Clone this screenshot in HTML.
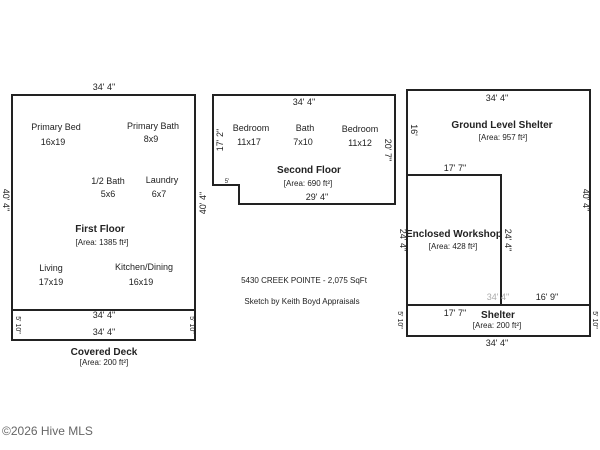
<!DOCTYPE html>
<html><head><style>body{margin:0;background:#fff}svg{display:block}text{font-family:"Liberation Sans",sans-serif;fill:#222}</style></head><body>
<svg width="600" height="450" viewBox="0 0 600 450">
<g fill="none" stroke="#222" stroke-width="2">
<rect x="12" y="95" width="183" height="245"/>
<line x1="12" y1="310" x2="195" y2="310"/>
<path d="M213 95 H395 V204 H239 V185 H213 Z"/>
<rect x="407" y="90" width="183" height="246"/>
<path d="M407 175 H501 V305"/>
<line x1="407" y1="305" x2="590" y2="305"/>
</g>
<g font-size="9" text-anchor="middle">
<text x="104" y="90">34' 4"</text>
<text x="56" y="130">Primary Bed</text><text x="53" y="145">16x19</text>
<text x="153" y="129">Primary Bath</text><text x="151" y="142">8x9</text>
<text x="108" y="184">1/2 Bath</text><text x="108" y="197">5x6</text>
<text x="162" y="183">Laundry</text><text x="159" y="197">6x7</text>
<text x="100" y="232" font-size="10" font-weight="bold">First Floor</text>
<text x="102" y="245" font-size="8">[Area: 1385 ft²]</text>
<text x="51" y="271">Living</text><text x="51" y="285">17x19</text>
<text x="144" y="270">Kitchen/Dining</text><text x="141" y="285">16x19</text>
<text x="104" y="318">34' 4"</text><text x="104" y="335">34' 4"</text>
<text x="104" y="355" font-size="10" font-weight="bold">Covered Deck</text>
<text x="104" y="365" font-size="8">[Area: 200 ft²]</text>
<text x="0" y="0" transform="translate(3,200) rotate(90)">40' 4"</text>
<text x="0" y="0" transform="translate(206,203) rotate(-90)">40' 4"</text>
<text x="0" y="0" font-size="7" transform="translate(16,325) rotate(90)">5' 10"</text>
<text x="0" y="0" font-size="7" transform="translate(190,325) rotate(90)">5' 10"</text>
<text x="304" y="105">34' 4"</text>
<text x="251" y="131">Bedroom</text><text x="249" y="145">11x17</text>
<text x="305" y="131">Bath</text><text x="303" y="145">7x10</text>
<text x="360" y="132">Bedroom</text><text x="360" y="146">11x12</text>
<text x="309" y="173" font-size="10" font-weight="bold">Second Floor</text>
<text x="308" y="186" font-size="8">[Area: 690 ft²]</text>
<text x="317" y="200">29' 4"</text>
<text x="227" y="183" font-size="6">5'</text>
<text x="0" y="0" transform="translate(223,140) rotate(-90)">17' 2"</text>
<text x="0" y="0" transform="translate(385,150) rotate(90)">20' 7"</text>
<text x="497" y="101">34' 4"</text>
<text x="502" y="128" font-size="10" font-weight="bold">Ground Level Shelter</text>
<text x="503" y="140" font-size="8">[Area: 957 ft²]</text>
<text x="455" y="171">17' 7"</text>
<text x="454" y="237" font-size="10" font-weight="bold">Enclosed Workshop</text>
<text x="453" y="249" font-size="8">[Area: 428 ft²]</text>
<text x="498" y="300" style="fill:#aaa">34' 4"</text>
<text x="547" y="300">16' 9"</text>
<text x="455" y="316">17' 7"</text>
<text x="498" y="318" font-size="10" font-weight="bold">Shelter</text>
<text x="497" y="328" font-size="8">[Area: 200 ft²]</text>
<text x="497" y="346">34' 4"</text>
<text x="0" y="0" transform="translate(411,130) rotate(90)">16'</text>
<text x="0" y="0" transform="translate(400,240) rotate(90)">24' 4"</text>
<text x="0" y="0" transform="translate(505,240) rotate(90)">24' 4"</text>
<text x="0" y="0" transform="translate(583,200) rotate(90)">40' 4"</text>
<text x="0" y="0" font-size="7" transform="translate(398,320) rotate(90)">5' 10"</text>
<text x="0" y="0" font-size="7" transform="translate(593,320) rotate(90)">5' 10"</text>
<text x="304" y="283" font-size="8">5430 CREEK POINTE - 2,075 SqFt</text>
<text x="302" y="304" font-size="8">Sketch by Keith Boyd Appraisals</text>
</g>
<text x="2" y="435" font-size="12" style="fill:#666">©2026 Hive MLS</text>
</svg>
</body></html>
